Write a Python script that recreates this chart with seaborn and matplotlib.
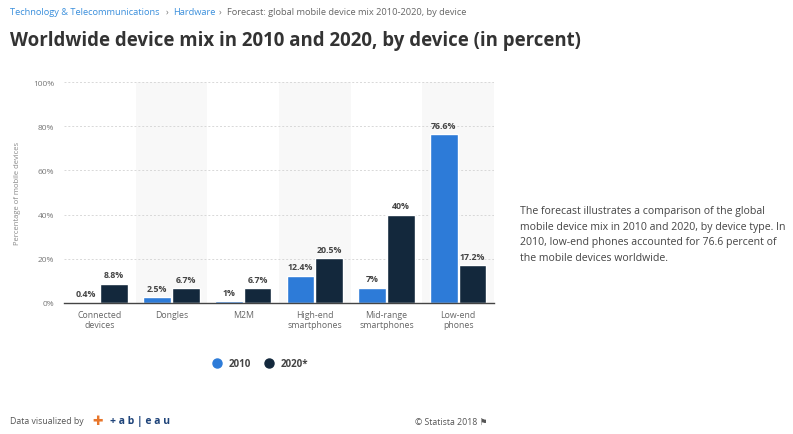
import matplotlib
matplotlib.use("Agg")
import matplotlib.pyplot as plt
import seaborn as sns
import pandas as pd
import numpy as np
from matplotlib.lines import Line2D

categories = ["Connected\ndevices", "Dongles", "M2M", "High-end\nsmartphones", "Mid-range\nsmartphones", "Low-end\nphones"]
values_2010 = [0.4, 2.5, 1.0, 12.4, 7.0, 76.6]
values_2020 = [8.8, 6.7, 6.7, 20.5, 40.0, 17.2]
series = ["2010", "2020*"]
colors = ["#2d7bd8", "#13283c"]
yticks = [0, 20, 40, 60, 80, 100]

df = pd.DataFrame({
    "category": categories * 2,
    "year": [series[0]] * len(categories) + [series[1]] * len(categories),
    "value": values_2010 + values_2020,
})

sns.set_theme(style="white")
plt.rcParams["font.family"] = ["Open Sans", "DejaVu Sans"]

W, H = 793, 435
fig = plt.figure(figsize=(W / 100, H / 100), dpi=100)
fig.patch.set_facecolor("white")

x0, x1, ytop, ybot = 64, 494, 83, 304
ax = fig.add_axes([x0 / W, 1 - ybot / H, (x1 - x0) / W, (ybot - ytop) / H])

# alternating band shading
for i in range(len(categories)):
    if i % 2 == 1:
        ax.axvspan(i - 0.5, i + 0.5, color="#f8f8f8", zorder=0, lw=0)

sns.barplot(data=df, x="category", y="value", hue="year", palette=colors,
            width=0.8, gap=0.03, ax=ax, legend=False, zorder=3, saturation=1)

ax.set_xlim(-0.5, len(categories) - 0.5)
ax.set_ylim(0, 100)
ax.set_yticks(yticks)
ax.set_yticklabels([f"{v}%" for v in yticks], fontsize=6, color="#777777")
ax.tick_params(axis="x", labelsize=6.3, colors="#666666", length=0, pad=5)
ax.tick_params(axis="y", length=0, pad=7)
ax.grid(axis="y", color="#d8d8d8", linestyle=(0, (2, 2)), linewidth=0.7, zorder=1)
ax.set_axisbelow(True)
ax.set_xlabel("")
ax.set_ylabel("Percentage of mobile devices", fontsize=5.5, color="#888888", labelpad=9)
for s in ["top", "right", "left"]:
    ax.spines[s].set_visible(False)
ax.spines["bottom"].set_color("#444444")
ax.spines["bottom"].set_linewidth(1.0)
ax.spines["bottom"].set_zorder(5)

for cont in ax.containers:
    labels = [f"{v:g}%" for v in cont.datavalues]
    ax.bar_label(cont, labels=labels, padding=3, fontsize=6.3, color="#444444", fontweight="bold")

# legend
handles = [Line2D([0], [0], marker="o", linestyle="", markersize=6.5, markerfacecolor=c, markeredgecolor=c) for c in colors]
leg = fig.legend(handles, series, loc="center", bbox_to_anchor=(258 / W, 1 - 365 / H), ncol=2,
                 frameon=False, fontsize=7, handletextpad=0.2, columnspacing=0.9)
for t in leg.get_texts():
    t.set_color("#444444")
    t.set_fontweight("bold")

# header
bc = 6.7
by = 1 - 15 / H
fig.text(10 / W, by, "Technology & Telecommunications", fontsize=bc, color="#3a8fdc", va="baseline")
fig.text(166 / W, by, "›", fontsize=bc, color="#777777", va="baseline")
fig.text(173 / W, by, "Hardware", fontsize=bc, color="#3a8fdc", va="baseline")
fig.text(219 / W, by, "›", fontsize=bc, color="#777777", va="baseline")
fig.text(227 / W, by, "Forecast: global mobile device mix 2010-2020, by device", fontsize=bc, color="#666666", va="baseline")
fig.text(10 / W, 1 - 41 / H, "Worldwide device mix in 2010 and 2020, by device (in percent)", fontsize=13.45,
         fontweight="bold", color="#333333", va="center")

# description
fig.text(520 / W, 1 - 235 / H,
         "The forecast illustrates a comparison of the global\nmobile device mix in 2010 and 2020, by device type. In\n2010, low-end phones accounted for 76.6 percent of\nthe mobile devices worldwide.",
         fontsize=7.55, color="#444444", va="center", linespacing=1.55)

# footer
fig.text(10 / W, 1 - 422 / H, "Data visualized by", fontsize=6.3, color="#555555", va="center")
fig.text(92 / W, 1 - 422 / H, "✚", fontsize=9, color="#e8762b", va="center")
fig.text(110 / W, 1 - 422 / H, "+ a b | e a u", fontsize=7.5, color="#1f447a", va="center", fontweight="bold")
fig.text(415 / W, 1 - 422 / H, "© Statista 2018 ⚑", fontsize=6.3, color="#555555", va="center",
         family=["Open Sans", "DejaVu Sans"])

fig.savefig("out.png", dpi=100, facecolor="white")
